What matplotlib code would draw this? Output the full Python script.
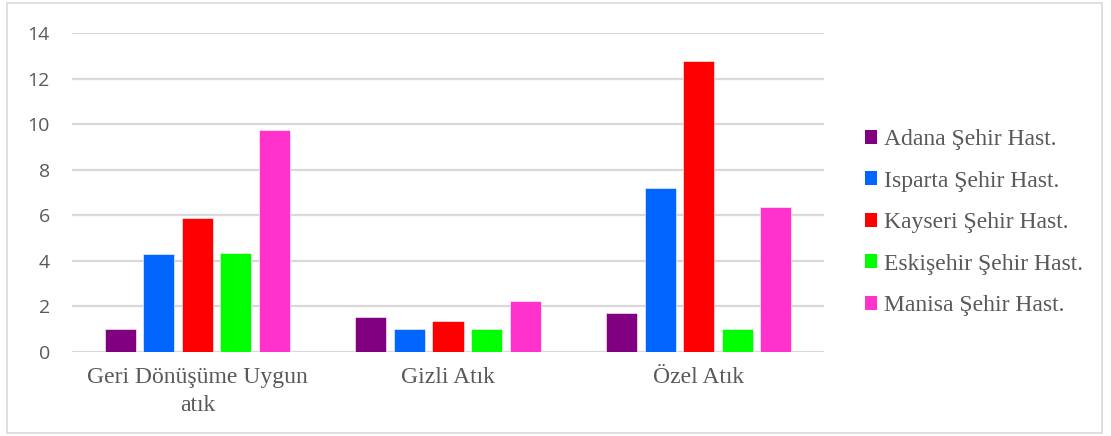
import numpy as np
import matplotlib
matplotlib.use("Agg")
import matplotlib.pyplot as plt
from matplotlib.patches import Rectangle, Patch

categories = ["Geri Dönüşüme Uygun\natık", "Gizli Atık", "Özel Atık"]
hospitals = ["Adana Şehir Hast.", "Isparta Şehir Hast.", "Kayseri Şehir Hast.",
             "Eskişehir Şehir Hast.", "Manisa Şehir Hast."]
adana = [1.0, 1.52, 1.70]
isparta = [4.28, 1.0, 7.21]
kayseri = [5.88, 1.36, 12.78]
eskisehir = [4.33, 1.0, 1.0]
manisa = [9.74, 2.24, 6.37]
series = [adana, isparta, kayseri, eskisehir, manisa]
colors = ["#800080", "#0066FF", "#FF0000", "#00FF00", "#FF33CC"]
yticks = [0, 2, 4, 6, 8, 10, 12, 14]

W, H = 1111, 436
fig = plt.figure(figsize=(W / 100, H / 100), dpi=100)
fig.patch.set_facecolor("white")

# outer chart frame
fig.add_artist(Rectangle((7 / W, 3 / H), 1095 / W, 430 / H, transform=fig.transFigure,
                         fill=False, edgecolor="#d9d9d9", linewidth=1.2))

ax = fig.add_axes([72 / W, 1 - 352 / H, (824 - 72) / W, (352 - 33) / H])
x = np.arange(len(categories))
step = 0.154
width = 0.124
for i, (vals, c) in enumerate(zip(series, colors)):
    ax.bar(x + (i - 2) * step, vals, width=width, color=c, zorder=3,
           edgecolor="white", linewidth=0.4)

ax.set_xlim(-0.5, 2.5)
ax.set_ylim(0, 14)
ax.set_yticks(yticks)
ax.set_yticklabels([str(t) for t in yticks], fontfamily="Open Sans", fontsize=14,
                   color="#595959")
ax.set_xticks(x)
ax.set_xticklabels(categories, fontfamily="Liberation Serif", fontsize=17,
                   color="#595959", linespacing=1.42)
ax.tick_params(axis="y", length=0, pad=16)
ax.tick_params(axis="x", length=0, pad=11)
ax.grid(axis="y", color="#d9d9d9", linewidth=1.6, zorder=0)
ax.set_axisbelow(True)
for s in ax.spines.values():
    s.set_visible(False)

handles = [Patch(facecolor=c, edgecolor="none") for c in colors]
fig.legend(handles, hospitals, loc="upper left",
           bbox_to_anchor=(865 / W, 1 - 129 / H), frameon=False,
           prop={"family": "Liberation Serif", "size": 17},
           labelcolor="#595959", handlelength=0.52, handleheight=0.52,
           handletextpad=0.28, labelspacing=0.87, borderpad=0, borderaxespad=0)

fig.savefig("out.png", dpi=100)
